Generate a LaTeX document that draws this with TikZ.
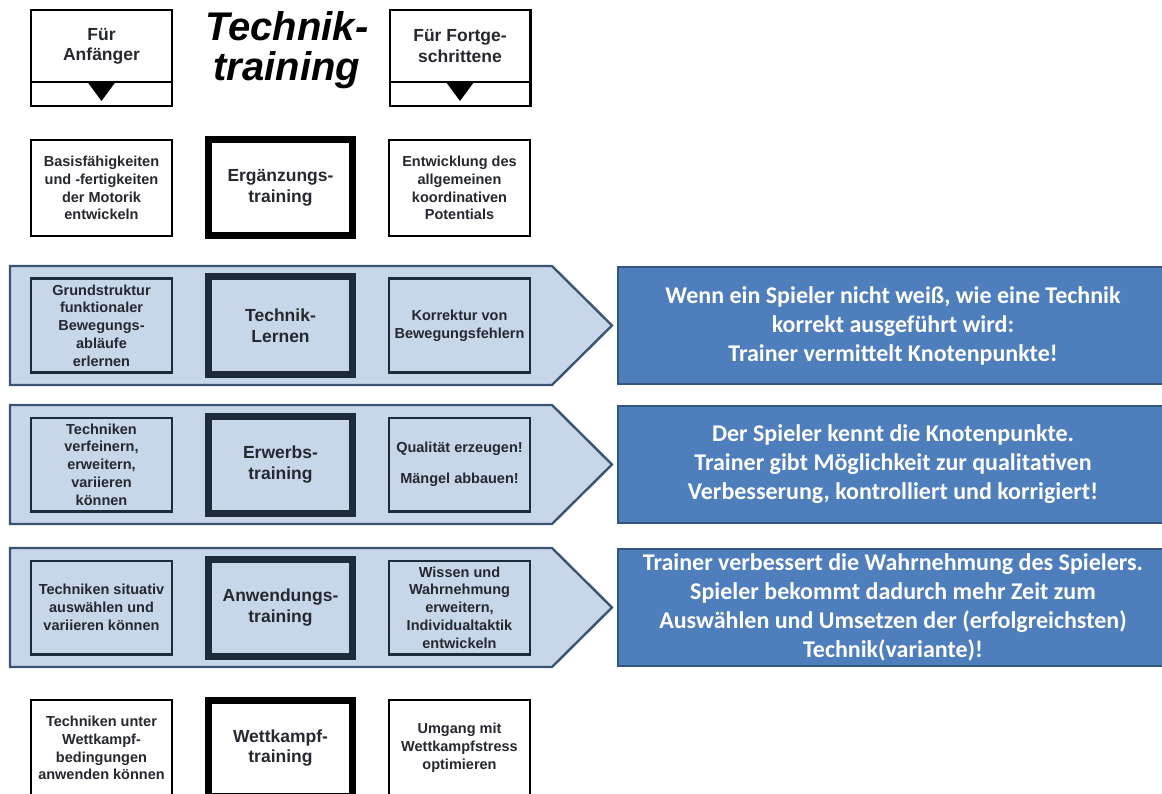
\documentclass[tikz,border=0pt]{standalone}
\usepackage{fontspec}
\setmainfont{Liberation Sans}
\newfontfamily\calibri{Carlito}
\usetikzlibrary{positioning}
\definecolor{bandfill}{HTML}{C8D6EA}
\definecolor{bandline}{HTML}{3A5473}
\definecolor{boxline}{HTML}{1F2B3B}
\definecolor{infofill}{HTML}{4F7EBC}
\definecolor{infoline}{HTML}{35557D}
\definecolor{txtgrey}{HTML}{25282E}
\begin{document}
\begin{tikzpicture}[x=1pt,y=-1pt,node distance=32pt,
    smallbox/.style={draw=black,line width=2.4pt,fill=white,minimum width=140.6pt,minimum height=95.6pt,inner sep=0pt,align=center,text=txtgrey,font=\fontsize{14.5}{17.8}\selectfont\bfseries},
    bigbox/.style={smallbox,line width=7pt,minimum width=144pt,minimum height=96pt,font=\fontsize{17.5}{20.5}\selectfont\bfseries},
    toppart/.style={smallbox,outer sep=0pt,font=\fontsize{17.5}{20.5}\selectfont\bfseries},
    inband/.style={draw=boxline},
    band/.style={draw=bandline,fill=bandfill,line width=2.4pt},
    infobox/.style={draw=infoline,fill=infofill,line width=2pt,minimum width=550pt,minimum height=117pt,inner sep=0pt,align=center,text=white,font=\calibri\fontsize{24}{29}\selectfont\bfseries}]
  \useasboundingbox (0,0) rectangle (1162,794);
  \clip (0,0) rectangle (1162,794);

  % Kopfzeile
  \node[toppart,minimum height=71.8pt] (anf) at (101.5,46.1) {Für\\Anfänger};
  \node[toppart,minimum height=23.8pt,below=0pt of anf] (anfpfeil) {};
  \fill (anfpfeil.north) +(-14,0) -- +(14,0) -- +(0,19) -- cycle;
  \node[inner sep=0pt,align=center,font=\fontsize{40}{40}\selectfont\bfseries\itshape] (titel) at (287,50) {Technik-\\training};
  \node[toppart,minimum height=71.8pt] (fort) at (460,46.1) {Für Fortge-\\schrittene};
  \node[toppart,minimum height=23.8pt,below=0pt of fort] (fortpfeil) {};
  \fill (fortpfeil.north) +(-14,0) -- +(14,0) -- +(0,19) -- cycle;

  % Ergaenzungstraining
  \node[smallbox] (basis) at (101.5,188) {Basisfähigkeiten\\und -fertigkeiten\\der Motorik\\entwickeln};
  \node[bigbox,right=of basis] (ergaenz) {Ergänzungs-\\training};
  \node[smallbox,right=of ergaenz] (entw) {Entwicklung des\\allgemeinen\\koordinativen\\Potentials};

  % Pfeilbaender
  \foreach \yc in {325.5,464.5,607.5}
    \draw[band] (10,\yc-59.5) -- (552,\yc-59.5) -- (612,\yc) -- (552,\yc+59.5) -- (10,\yc+59.5) -- cycle;

  \node[smallbox,inband,fill=bandfill,minimum height=93.6pt] (grund) at (101.5,325.5) {Grundstruktur\\funktionaler\\Bewegungs-\\abläufe\\erlernen};
  \node[bigbox,inband,fill=bandfill,minimum height=97pt,right=of grund] (techlern) {Technik-\\Lernen};
  \node[smallbox,inband,fill=bandfill,minimum height=93.6pt,right=of techlern] (korr) {Korrektur von\\Bewegungsfehlern};
  \node[infobox] (wenn) at (893,325.5) {Wenn ein Spieler nicht weiß, wie eine Technik\\korrekt ausgeführt wird:\\Trainer vermittelt Knotenpunkte!};

  \node[smallbox,inband,fill=bandfill,minimum height=93.6pt] (verf) at (101.5,464.5) {Techniken\\verfeinern,\\erweitern,\\variieren\\können};
  \node[bigbox,inband,fill=bandfill,minimum height=97pt,right=of verf] (erwerb) {Erwerbs-\\training};
  \node[smallbox,inband,fill=bandfill,minimum height=93.6pt,right=of erwerb] (qual) {Qualität erzeugen!\\[13pt]Mängel abbauen!};
  \node[infobox] (kennt) at (893,464.5) {Der Spieler kennt die Knotenpunkte.\\Trainer gibt Möglichkeit zur qualitativen\\Verbesserung, kontrolliert und korrigiert!};

  \node[smallbox,inband,fill=bandfill,minimum height=93.6pt] (situ) at (101.5,607.5) {Techniken situativ\\auswählen und\\variieren können};
  \node[bigbox,inband,fill=bandfill,minimum height=97pt,right=of situ] (anwend) {Anwendungs-\\training};
  \node[smallbox,inband,fill=bandfill,minimum height=93.6pt,right=of anwend] (wissen) {Wissen und\\Wahrnehmung\\erweitern,\\Individualtaktik\\entwickeln};
  \node[infobox] (wahrn) at (893,607.5) {Trainer verbessert die Wahrnehmung des Spielers.\\Spieler bekommt dadurch mehr Zeit zum\\Auswählen und Umsetzen der (erfolgreichsten)\\Technik(variante)!};

  % Wettkampftraining
  \node[smallbox] (unter) at (101.5,748) {Techniken unter\\Wettkampf-\\bedingungen\\anwenden können};
  \node[bigbox,right=of unter] (wettk) {Wettkampf-\\training};
  \node[smallbox,right=of wettk] (stress) {Umgang mit\\Wettkampfstress\\optimieren};
\end{tikzpicture}
\end{document}
